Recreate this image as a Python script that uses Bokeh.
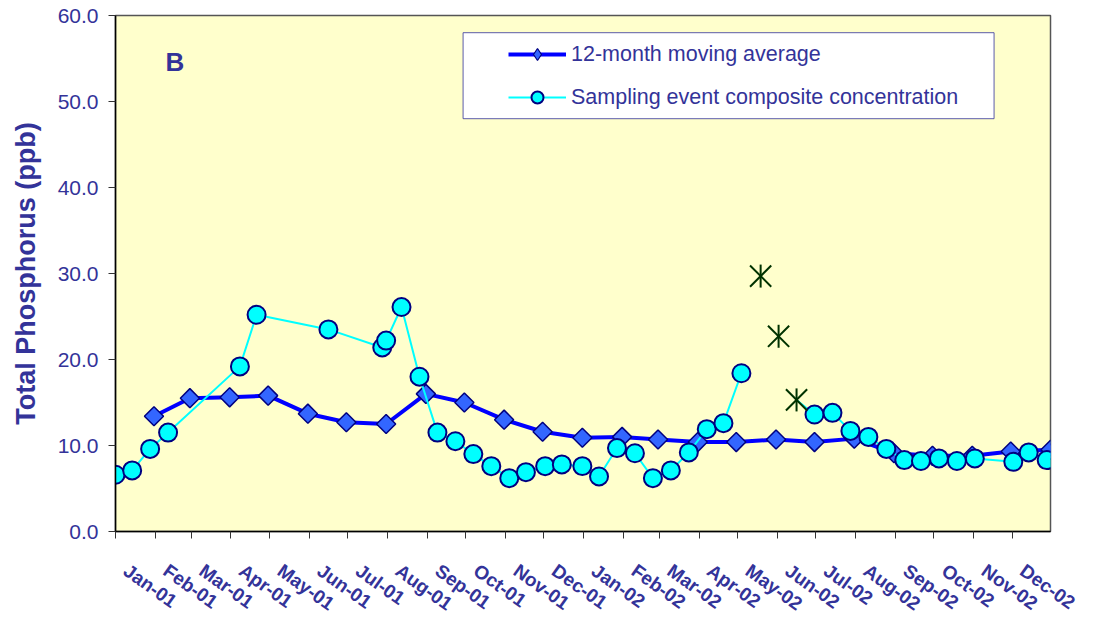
import math
import numpy as np
import pandas as pd
from bokeh.plotting import figure
from bokeh.models import (Range1d, FixedTicker, PrintfTickFormatter, Legend, LegendItem,
                          Label, BoxAnnotation, ColumnDataSource)
from bokeh.embed import file_html
from bokeh.resources import INLINE

# ---------------- data ----------------
ma_dates = ["2001-01-31", "2001-02-28", "2001-03-31", "2001-04-30", "2001-05-31", "2001-06-30",
            "2001-07-31", "2001-08-31", "2001-09-30", "2001-10-31", "2001-11-30", "2001-12-31",
            "2002-01-31", "2002-02-28", "2002-03-31", "2002-04-30", "2002-05-31", "2002-06-30",
            "2002-07-31", "2002-08-31", "2002-09-30", "2002-10-31", "2002-11-30", "2002-12-31"]
ma_values = [13.4, 15.5, 15.6, 15.8, 13.7, 12.7, 12.5, 16.0, 15.0, 13.0, 11.6, 10.9,
             11.0, 10.7, 10.4, 10.4, 10.7, 10.4, 10.8, 9.1, 8.8, 8.8, 9.3, 9.5]

sample_dates = ["2001-01-01", "2001-01-14", "2001-01-28", "2001-02-11", "2001-04-08", "2001-04-21",
                "2001-06-16", "2001-07-28", "2001-07-31", "2001-08-12", "2001-08-26", "2001-09-09",
                "2001-09-23", "2001-10-07", "2001-10-21", "2001-11-04", "2001-11-17", "2001-12-02",
                "2001-12-15", "2001-12-31", "2002-01-13", "2002-01-27", "2002-02-10", "2002-02-24",
                "2002-03-10", "2002-03-24", "2002-04-07", "2002-04-20", "2002-05-04",
                "2002-06-30", "2002-07-14", "2002-07-28", "2002-08-11", "2002-08-25", "2002-09-08",
                "2002-09-21", "2002-10-05", "2002-10-19", "2002-11-02", "2002-12-02", "2002-12-14",
                "2002-12-28"]
sample_values = [6.6, 7.1, 9.6, 11.5, 19.2, 25.2,
                 23.5, 21.4, 22.2, 26.1, 18.0, 11.5,
                 10.5, 9.0, 7.6, 6.2, 6.9, 7.6,
                 7.8, 7.6, 6.4, 9.7, 9.1, 6.2,
                 7.1, 9.2, 11.9, 12.6, 18.4,
                 13.6, 13.8, 11.7, 11.0, 9.6, 8.3,
                 8.2, 8.5, 8.2, 8.5, 8.1, 9.2,
                 8.3]

flag_dates = ["2002-05-19", "2002-06-02", "2002-06-16"]
flag_values = [29.7, 22.7, 15.3]

month_starts = pd.date_range("2001-01-01", "2002-12-01", freq="MS")
tick_labels = ["Jan-01", "Feb-01", "Mar-01", "Apr-01", "May-01", "Jun-01",
               "Jul-01", "Aug-01", "Sep-01", "Oct-01", "Nov-01", "Dec-01",
               "Jan-02", "Feb-02", "Mar-02", "Apr-02", "May-02", "Jun-02",
               "Jul-02", "Aug-02", "Sep-02", "Oct-02", "Nov-02", "Dec-02"]
y_ticks = [0, 10, 20, 30, 40, 50, 60]

# ---------------- helpers ----------------
def ms(d):
    return int(pd.Timestamp(d).value // 10**6)

DAY_MS = 86400000
TXT = "#333399"
FONT = "Liberation Sans"

p = figure(frame_width=935, frame_height=516, x_axis_type="datetime",
           x_range=Range1d(ms("2001-01-01"), ms("2002-12-31")), y_range=Range1d(0, 60),
           output_backend="svg", toolbar_location=None,
           min_border_left=115, min_border_right=35, min_border_top=15, min_border_bottom=84,
           background_fill_color="#FFFFCC", border_fill_color="white")
p.outline_line_color = "#555555"
p.outline_line_width = 1.5
p.grid.visible = False

# moving average
ma_src = ColumnDataSource(dict(x=pd.to_datetime(ma_dates), y=ma_values))
ma_line = p.line("x", "y", source=ma_src, line_color="#0000FF", line_width=4)
ma_key = p.scatter("x", "y", source=ma_src, marker="diamond", size=12,
                   fill_color="#3366FF", line_color="#000080", line_width=1.2)
ma_pts = p.scatter("x", "y", source=ma_src, marker="square", angle=math.pi / 4, size=13.5,
                   fill_color="#3366FF", line_color="#000080", line_width=1.5)

# sampling events: line broken where flagged values replace samples
s_dates = pd.to_datetime(sample_dates)
f_dates = pd.to_datetime(flag_dates)
split = int(np.sum(s_dates < f_dates[0]))
line_x = list(s_dates[:split]) + [s_dates[split - 1], f_dates[-1]] + list(s_dates[split:])
line_y = list(sample_values[:split]) + [np.nan, flag_values[-1]] + list(sample_values[split:])
s_line = p.line(line_x, line_y, line_color="#00FFFF", line_width=2)
s_pts = p.scatter(s_dates, sample_values, marker="circle", size=18,
                  fill_color="#00FFFF", line_color="#000080", line_width=2)

# flagged events (asterisk style markers)
p.scatter(f_dates, flag_values, marker="x", size=30, line_color="#003300", line_width=2)
p.scatter(f_dates, flag_values, marker="dash", angle=math.pi / 2, size=23,
          line_color="#003300", line_width=2)

# axes
xa = p.xaxis[0]
label_pos = [ms(d) + 8 * DAY_MS for d in month_starts]
xa.ticker = FixedTicker(ticks=label_pos, minor_ticks=[ms(d) for d in month_starts])
xa.major_label_overrides = {k: lab for k, lab in zip(label_pos, tick_labels)}
xa.major_label_orientation = -0.62
xa.major_tick_out = 0
xa.major_tick_in = 0
xa.major_tick_line_color = None
xa.minor_tick_out = 7
xa.minor_tick_in = 0
xa.minor_tick_line_color = "#333333"
xa.major_label_standoff = 30
xa.major_label_text_font = FONT
xa.major_label_text_font_size = "19px"
xa.major_label_text_font_style = "bold"
xa.major_label_text_color = TXT
xa.axis_line_color = "black"
xa.axis_line_width = 1.5

ya = p.yaxis[0]
ya.ticker = FixedTicker(ticks=y_ticks)
ya.formatter = PrintfTickFormatter(format="%.1f")
ya.major_tick_out = 7
ya.major_tick_in = 0
ya.minor_tick_out = 0
ya.minor_tick_in = 0
ya.major_label_standoff = 10
ya.major_label_text_font = FONT
ya.major_label_text_font_size = "21px"
ya.major_label_text_color = TXT
ya.axis_label = "Total Phosphorus (ppb)"
ya.axis_label_text_font = FONT
ya.axis_label_text_font_size = "27px"
ya.axis_label_text_font_style = "bold"
ya.axis_label_text_color = TXT
ya.axis_label_standoff = 14
ya.axis_line_color = "black"
ya.axis_line_width = 1.5
ya.major_tick_line_color = "#333333"

# panel letter
p.add_layout(Label(x=ms("2001-02-09"), y=54.6, text="B", text_font=FONT, text_font_size="26px",
                   text_font_style="bold", text_color=TXT, text_baseline="middle",
                   text_align="left"))

# legend box + legend
p.add_layout(BoxAnnotation(left=ms("2001-09-29"), right=ms("2002-11-17"), top=58.0, bottom=48.0,
                           fill_color="white", fill_alpha=1.0, line_color=TXT, line_width=1,
                           line_alpha=0.8))
legend = Legend(items=[LegendItem(label="12-month moving average", renderers=[ma_line, ma_key]),
                       LegendItem(label="Sampling event composite concentration",
                                  renderers=[s_line, s_pts])],
                location=(393, 419), padding=0, margin=0, spacing=13,
                glyph_width=58, glyph_height=30, label_height=30, label_standoff=5,
                label_text_font=FONT, label_text_font_size="21.5px", label_text_color=TXT,
                background_fill_alpha=0, border_line_color=None)
p.add_layout(legend)

open("out.html", "w").write(file_html(p, INLINE))
